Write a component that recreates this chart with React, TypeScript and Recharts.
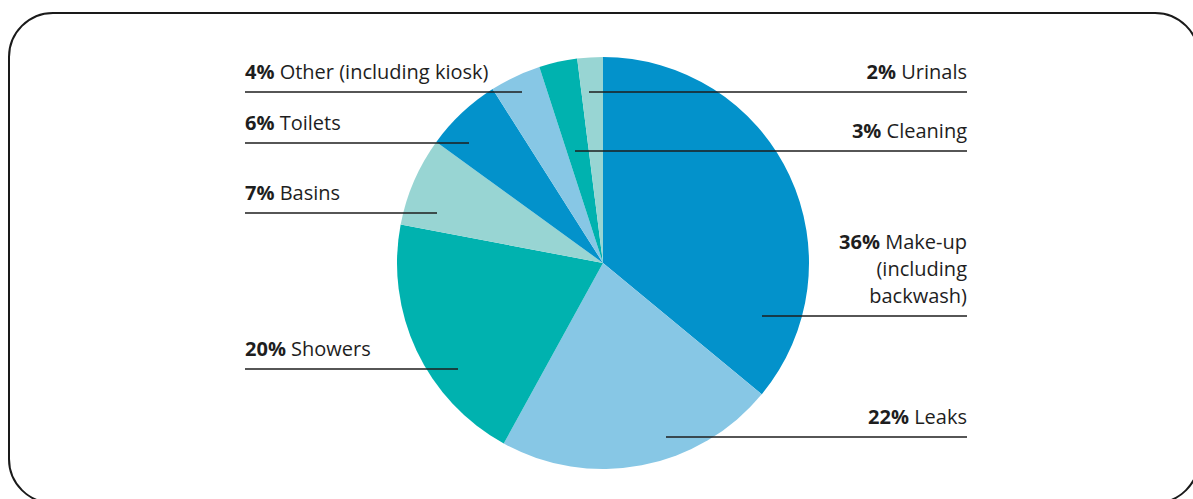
import React from 'react';
import { PieChart, Pie, Cell } from 'recharts';

// water use breakdown (percent)
const categories = [
  'Make-up (including backwash)',
  'Leaks',
  'Showers',
  'Basins',
  'Toilets',
  'Other (including kiosk)',
  'Cleaning',
  'Urinals',
];
const shares = [36, 22, 20, 7, 6, 4, 3, 2];
const COLORS = ['#0392cb', '#87c7e5', '#00b2af', '#98d5d3', '#0392cb', '#87c7e5', '#00b2af', '#98d5d3'];

// label layout: which side, leader line height and where the leader ends inside the slice
// (offsets from the pie centre)
const labelLayout = [
  { side: 'right', dy: 53, dx: 159, wrap: 10 },
  { side: 'right', dy: 174, dx: 63 },
  { side: 'left', dy: 106, dx: -145 },
  { side: 'left', dy: -50, dx: -166 },
  { side: 'left', dy: -120, dx: -134 },
  { side: 'left', dy: -171, dx: -81 },
  { side: 'right', dy: -112, dx: -28 },
  { side: 'right', dy: -171, dx: -14 },
];

const data = categories.map((name, i) => ({ name, value: shares[i] }));

const CX = 603;
const CY = 263;
const LEFT_X = -358;
const RIGHT_X = 364;
const FONT = '"Open Sans", "Noto Sans", sans-serif';

function wrapText(text: string, max?: number) {
  if (!max) return [text];
  const out: string[] = [];
  let cur = '';
  text.split(' ').forEach((w) => {
    if (!cur) cur = w;
    else if ((cur + ' ' + w).length <= max) cur += ' ' + w;
    else {
      out.push(cur);
      cur = w;
    }
  });
  if (cur) out.push(cur);
  return out;
}

const renderLabel = (props: any) => {
  const { cx, cy, index, name, value } = props;
  const lay = labelLayout[index];
  const lineY = cy + lay.dy;
  const ax = cx + lay.dx;
  const isLeft = lay.side === 'left';
  const tx = isLeft ? cx + LEFT_X : cx + RIGHT_X;
  const lines = wrapText(name, lay.wrap);
  const lh = 27;
  const firstBase = lineY - 13 - (lines.length - 1) * lh;
  return (
    <g key={`lbl-${index}`}>
      <line
        x1={isLeft ? tx : ax}
        x2={isLeft ? ax : tx}
        y1={lineY}
        y2={lineY}
        stroke="#1e1e1e"
        strokeWidth={1.4}
      />
      {lines.map((ln, i) => (
        <text
          key={i}
          x={tx}
          y={firstBase + i * lh}
          textAnchor={isLeft ? 'start' : 'end'}
          fontFamily={FONT}
          fontSize={20}
          fill="#1e1e1e"
        >
          {i === 0 && (
            <tspan fontWeight={700}>{value}%</tspan>
          )}
          <tspan fontWeight={400}>{i === 0 ? ' ' + ln : ln}</tspan>
        </text>
      ))}
    </g>
  );
};

export default function App() {
  return (
    <div
      style={{
        position: 'fixed',
        left: 0,
        top: 0,
        width: 1193,
        height: 499,
        overflow: 'hidden',
        background: '#fff',
      }}
    >
      <div
        style={{
          position: 'absolute',
          left: 8,
          top: 12,
          width: 1192,
          height: 492,
          border: '2px solid #1a1a1a',
          borderRadius: 45,
          boxSizing: 'border-box',
        }}
      />
      <div style={{ position: 'absolute', left: 0, top: 0 }}>
        <PieChart width={1193} height={499} margin={{ top: 0, right: 0, bottom: 0, left: 0 }}>
          <Pie
            data={data}
            dataKey="value"
            nameKey="name"
            cx={CX}
            cy={CY}
            outerRadius={206}
            startAngle={90}
            endAngle={-270}
            stroke="none"
            label={renderLabel}
            labelLine={false}
            isAnimationActive={false}
          >
            {data.map((d, i) => (
              <Cell key={`cell-${i}`} fill={COLORS[i]} />
            ))}
          </Pie>
        </PieChart>
      </div>
    </div>
  );
}
